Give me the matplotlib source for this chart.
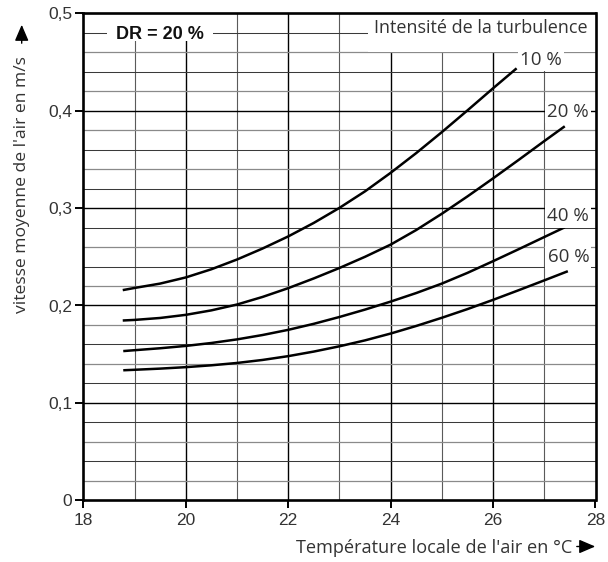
import matplotlib
matplotlib.use('Agg')
import numpy as np
import matplotlib.pyplot as plt
from matplotlib.patches import Rectangle, FancyArrowPatch

# ---- data ----
temp_10 = [18.77, 19.0, 19.5, 20.0, 20.5, 21.0, 21.5, 22.0, 22.5, 23.0, 23.5,
           24.0, 24.5, 25.0, 25.5, 26.0, 26.46]
vel_10 = [0.2158, 0.2180, 0.2225, 0.2288, 0.2372, 0.2472, 0.2585, 0.2709, 0.2848,
          0.3002, 0.3172, 0.3362, 0.3565, 0.3780, 0.4003, 0.4230, 0.4435]

temp_20 = [18.77, 19.0, 19.5, 20.0, 20.5, 21.0, 21.5, 22.0, 22.5, 23.0, 23.5,
           24.0, 24.5, 25.0, 25.5, 26.0, 26.5, 27.0, 27.40]
vel_20 = [0.1846, 0.1852, 0.1872, 0.1904, 0.1950, 0.2010, 0.2088, 0.2178, 0.2278,
          0.2385, 0.2500, 0.2625, 0.2775, 0.2942, 0.3120, 0.3305, 0.3495, 0.3688,
          0.3840]

temp_40 = [18.78, 19.0, 19.5, 20.0, 20.5, 21.0, 21.5, 22.0, 22.5, 23.0, 23.5,
           24.0, 24.5, 25.0, 25.5, 26.0, 26.5, 27.0, 27.40]
vel_40 = [0.1532, 0.1541, 0.1561, 0.1585, 0.1615, 0.1652, 0.1697, 0.1750, 0.1812,
          0.1882, 0.1958, 0.2040, 0.2128, 0.2225, 0.2335, 0.2455, 0.2578, 0.2703,
          0.2803]

temp_60 = [18.78, 19.0, 19.5, 20.0, 20.5, 21.0, 21.5, 22.0, 22.5, 23.0, 23.5,
           24.0, 24.5, 25.0, 25.5, 26.0, 26.5, 27.0, 27.46]
vel_60 = [0.1335, 0.1340, 0.1352, 0.1367, 0.1386, 0.1410, 0.1441, 0.1480, 0.1527,
          0.1581, 0.1642, 0.1712, 0.1790, 0.1874, 0.1963, 0.2058, 0.2157, 0.2258,
          0.2352]

curve_labels = ['10 %', '20 %', '40 %', '60 %']
x_ticks = [18, 20, 22, 24, 26, 28]
x_tick_labels = ['18', '20', '22', '24', '26', '28']
y_ticks = [0, 0.1, 0.2, 0.3, 0.4, 0.5]
y_tick_labels = ['0', '0,1', '0,2', '0,3', '0,4', '0,5']

x_label = "Température locale de l'air en °C"
y_label = "vitesse moyenne de l'air en m/s"
title_dr = "DR = 20 %"
legend_title = "Intensité de la turbulence"

# ---- figure ----
W, H = 608, 562
fig = plt.figure(figsize=(W / 100, H / 100), dpi=100)
x0, x1, y0, y1 = 83.3, 595.5, 500.3, 13.3
ax = fig.add_axes([x0 / W, 1 - y0 / H, (x1 - x0) / W, (y0 - y1) / H])
ax.set_xlim(18, 28)
ax.set_ylim(0, 0.5)

# grid
for xv in np.arange(19, 28):
    if xv % 2 == 0:
        ax.axvline(xv, color='black', lw=1.0, zorder=1)
    else:
        ax.axvline(xv, color='#5a5a5a', lw=0.8, zorder=1)
for k in range(1, 25):
    yv = k * 0.02
    if k % 5 == 0:
        ax.axhline(yv, color='black', lw=1.0, zorder=1)
    elif k % 2 == 1:
        ax.axhline(yv, color='#8a8a8a', lw=0.9, zorder=1)
    else:
        ax.axhline(yv, color='#3a3a3a', lw=0.75, zorder=1)

# white areas behind the header texts
ax.add_patch(Rectangle((23.55, 0.4605), 4.45, 0.0395, facecolor='white',
                       edgecolor='none', zorder=2))
ax.add_patch(Rectangle((18.46, 0.4715), 2.07, 0.0285, facecolor='white',
                       edgecolor='none', zorder=2))

# curves
for t, v in [(temp_10, vel_10), (temp_20, vel_20), (temp_40, vel_40), (temp_60, vel_60)]:
    ax.plot(t, v, color='black', lw=1.8, solid_capstyle='butt',
            solid_joinstyle='round', zorder=5)

# curve labels
label_pos = [(26.93, 0.452), (27.46, 0.399), (27.47, 0.2914), (27.47, 0.2493)]
for lab, (lx, ly) in zip(curve_labels, label_pos):
    ax.text(lx, ly, lab, ha='center', va='center', fontsize=13.5,
            family=['Open Sans', 'DejaVu Sans'], color='#333333', zorder=6,
            bbox=dict(facecolor='white', edgecolor='none', pad=1.5))

ax.text(19.5, 0.4785, title_dr, ha='center', va='center', fontsize=13,
        fontweight='bold', family=['Liberation Sans', 'DejaVu Sans'],
        color='#111111', zorder=6)
ax.text(27.85, 0.4845, legend_title, ha='right', va='center', fontsize=13,
        family=['Open Sans', 'DejaVu Sans'], color='#333333', zorder=6)

# ticks and spines
ax.set_xticks(x_ticks)
ax.set_xticklabels(x_tick_labels)
ax.set_yticks(y_ticks)
ax.set_yticklabels(y_tick_labels)
ax.tick_params(direction='out', length=6, width=1.4, color='black',
               labelsize=12.5, labelcolor='#333333')
ax.tick_params(axis='y', pad=2)
ax.tick_params(axis='x', pad=3.5)
for lab in ax.get_xticklabels() + ax.get_yticklabels():
    lab.set_family(['Liberation Sans', 'DejaVu Sans'])
for s in ax.spines.values():
    s.set_linewidth(1.9)
    s.set_color('black')
    s.set_zorder(7)

# axis labels with arrows
fig.text(572 / W, 1 - 553 / H, x_label, ha='right', va='baseline', fontsize=13.1,
         family=['Open Sans', 'DejaVu Sans'], color='#333333')
fig.text(22 / W, 1 - 313 / H, y_label, ha='center', va='bottom', rotation=90,
         fontsize=12.6, family=['Open Sans', 'DejaVu Sans'], color='#333333')
fig.add_artist(FancyArrowPatch(
    (574 / W, 1 - 546.5 / H), (598 / W, 1 - 546.5 / H), transform=fig.transFigure,
    arrowstyle='-|>,head_length=0.7,head_width=0.3', mutation_scale=14,
    color='black', lw=1.0))
fig.add_artist(FancyArrowPatch(
    (21.7 / W, 1 - 46 / H), (21.7 / W, 1 - 22 / H), transform=fig.transFigure,
    arrowstyle='-|>,head_length=0.7,head_width=0.3', mutation_scale=14,
    color='black', lw=1.0))

fig.savefig('out.png', dpi=100, facecolor='white')
